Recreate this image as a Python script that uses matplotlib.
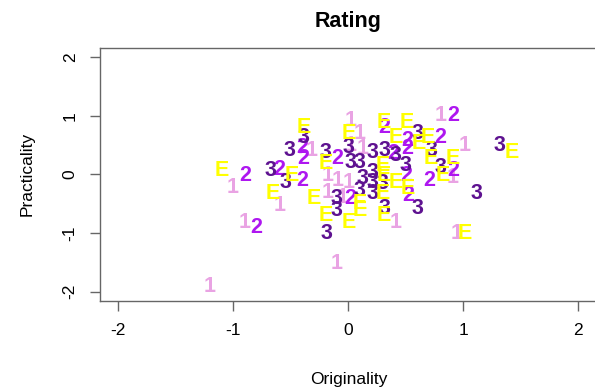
import matplotlib
matplotlib.use("Agg")
import matplotlib.pyplot as plt

plt.rcParams['font.family'] = ['Liberation Sans', 'DejaVu Sans']
plt.rcParams['axes.unicode_minus'] = False  # R draws a plain hyphen

# rating labels and their (Originality, Practicality) positions
x_1 = [-1.21, -0.10, -1.01, -0.90, -0.60, -0.32, -0.18, -0.18, -0.09, 0.00,
       0.02, 0.10, 0.02, 0.12, 0.80, 1.01, 0.91, 0.41, 0.94, -0.05]
y_1 = [-1.91, -1.52, -0.22, -0.82, -0.53, 0.41, -0.02, -0.31, -0.10, -0.14,
       0.92, 0.70, 0.50, 0.44, 1.01, 0.50, -0.05, -0.82, -1.01, -0.39]

x_2 = [-0.90, -0.80, -0.60, -0.40, -0.40, -0.39, -0.10, 0.31, 0.51, 0.80,
       0.91, 0.51, 0.39, 0.91, 0.70, 0.52, 0.02, 0.50]
y_2 = [-0.02, -0.91, 0.09, -0.10, 0.46, 0.27, 0.27, 0.79, 0.58, 0.62,
       1.01, 0.44, 0.36, 0.07, -0.10, -0.36, -0.41, -0.02]

x_3 = [-0.68, -0.55, -0.51, -0.39, -0.20, -0.19, -0.10, -0.10, 0.00, 0.02,
       0.10, 0.21, 0.31, 0.41, 0.50, 0.21, 0.21, 0.12, 0.10, 0.21,
       0.30, 0.31, 0.60, 0.60, 0.72, 0.80, 1.11, 1.31]
y_3 = [0.07, -0.14, 0.41, 0.62, 0.38, -1.01, -0.62, -0.41, 0.46, 0.21,
       0.21, 0.38, 0.41, 0.32, 0.15, 0.03, -0.14, -0.07, -0.27, -0.32,
       -0.15, -0.58, -0.58, 0.70, 0.41, 0.12, -0.32, 0.50]

x_e = [-1.10, -0.66, -0.49, -0.39, -0.30, -0.20, -0.20, 0.00, 0.00, 0.31,
       0.51, 0.41, 0.61, 0.69, 0.72, 0.91, 0.82, 1.42, 0.30, 0.31,
       0.41, 0.52, 0.30, 0.10, 0.10, 0.31, 1.01]
y_e = [0.07, -0.32, -0.02, 0.79, -0.41, 0.19, -0.70, -0.82, 0.70, 0.89,
       0.89, 0.62, 0.53, 0.62, 0.27, 0.27, -0.02, 0.38, 0.15, -0.02,
       -0.14, -0.24, -0.32, -0.50, -0.62, -0.70, -1.01]

groups = [
    ('1', x_1, y_1, '#E9A3E3'),
    ('2', x_2, y_2, '#AE17F0'),
    ('3', x_3, y_3, '#5E1290'),
    ('E', x_e, y_e, '#FFFF00'),
]

fig = plt.figure(figsize=(5.95, 3.88), dpi=100)
ax = fig.add_axes([0.168, 0.2242, 0.835, 0.653])

for label, xs, ys, col in groups:
    for x, y in zip(xs, ys):
        ax.text(x, y, label, color=col, fontsize=15.5, fontweight='bold',
                ha='center', va='center')

ax.set_xlim(-2.16, 2.16)
ax.set_ylim(-2.16, 2.16)
ax.set_xticks([-2, -1, 0, 1, 2])
ax.set_yticks([-2, -1, 0, 1, 2])
ax.set_yticklabels(['-2', '-1', '0', '1', '2'], rotation=90, va='center')

for spine in ax.spines.values():
    spine.set_color('#666666')
    spine.set_linewidth(1.0)
ax.tick_params(direction='out', length=7, width=1.0, color='#666666',
               labelsize=12.5, pad=9)

ax.set_xlabel('Originality', fontsize=12.5, labelpad=24)
ax.set_ylabel('Practicality', fontsize=12.5, labelpad=20)
ax.set_title('Rating', fontsize=15.5, fontweight='bold', pad=15)

fig.savefig('out.png', dpi=100)
